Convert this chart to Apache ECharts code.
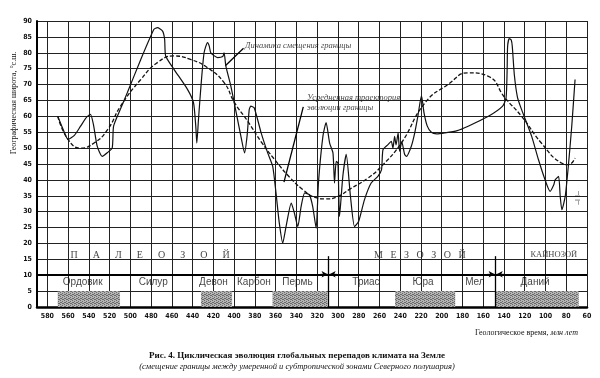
<!DOCTYPE html>
<html>
<head>
<meta charset="utf-8">
<script src="https://cdn.jsdelivr.net/npm/echarts@6/dist/echarts.min.js"></script>
<style>
  html, body { margin: 0; background: #fff; }
  #chart { width: 600px; height: 378px; }
</style>
</head>
<body>
<div id="chart"></div>
<script>
// geological time axis (million years ago), labels every 20
const xTicks = [580, 560, 540, 520, 500, 480, 460, 440, 420, 400, 380, 360, 340, 320,
  300, 280, 260, 240, 220, 200, 180, 160, 140, 120, 100, 80, 60];

// [Ma, latitude] - dynamics of boundary shift (solid)
const boundaryShift = [
  [570, 60], [565, 56], [560, 52.7], [554, 54], [548, 56.9], [542, 59.8], [538.5, 60.6],
  [535.6, 57.4], [532, 50.6], [527.2, 47.4], [522, 48.6], [517.5, 50.1], [516.2, 56.9],
  [510, 62], [503, 67.4], [490, 77.9], [477.3, 87.4], [474, 87.9], [469, 86.8], [467, 84.2],
  [466, 79], [458, 74.8], [445, 68.5], [439.2, 64.3], [437, 56.9], [436, 51.6], [434.4, 59],
  [432, 69.5], [429, 80], [425.7, 83.2], [424, 82.1], [422.5, 80], [416, 78.5], [411, 78.8],
  [409.7, 80], [408, 75.8], [403.2, 69.5], [398, 61.1], [393.5, 53.7], [390, 48.5],
  [387.5, 54], [385.5, 62.1], [384, 63.2], [380.7, 62.7], [374, 54.8], [367.7, 48.5],
  [362.9, 44.3], [359.7, 35.9], [356.5, 26.4], [353.2, 20.1], [350, 25.3], [345, 32.7],
  [342, 29.6], [338.7, 25.3], [335.5, 31.6], [332, 35.9], [327.5, 35.3], [324.3, 31.6],
  [321, 24.8], [318.8, 39], [314.5, 53.7], [311.4, 58], [308, 51.6], [304.8, 48.5],
  [303.3, 39], [301.7, 45.8], [300, 45.3], [298.5, 28.5], [295.3, 41.1], [292, 48],
  [288, 35], [284, 25.3], [280, 27], [274.4, 33.8], [268, 39], [261.5, 41.1], [258, 43.2],
  [256.6, 49.5], [251.8, 51.1], [248.6, 52.1], [247, 50], [245.4, 53.7], [244, 51],
  [242, 54.8], [240.6, 49], [238.5, 52], [235.7, 48], [234, 47.4], [229.3, 50.6],
  [226, 54.8], [223, 60], [219.5, 66.5], [217, 61], [214, 57], [210, 55], [205, 54.5],
  [197, 54.8], [185, 55.5], [174.5, 56.9], [155, 60], [141.3, 63.2], [138, 65.8],
  [137, 74], [136.5, 82], [135, 84.5], [133, 84], [132, 82], [130, 73], [127, 66],
  [123, 62.1], [113.3, 53.7], [106.8, 46.4], [100.4, 40], [95.6, 36.4], [92, 38.5],
  [90.7, 40], [87.4, 41.1], [85.8, 34.8], [84.2, 30.6], [81, 34.8], [78, 44.3],
  [74.7, 56.9], [71.5, 71.6]
];

// [Ma, latitude] - averaged trajectory (dashed)
const averageTrend = [
  [570, 60], [560, 52.7], [548, 50], [535, 51.6], [522, 55.8], [509.5, 63.2], [490, 71.6],
  [474, 76.9], [458, 79], [442, 77.9], [425.7, 75.3], [409.7, 70.6], [400, 64.5],
  [387, 58.5], [374, 52], [361, 46.4], [347, 41], [334, 37], [322, 34.5], [312, 34],
  [300, 34.8], [289, 37], [271, 40.6], [258, 44.3], [239, 51.6], [216, 64.3], [194, 70],
  [174.5, 73.7], [155, 72.6], [139, 65.8], [123, 60], [104, 51.6], [84.6, 45.3],
  [78, 44.8], [71.5, 46.9]
];

const periodNames = ['Ордовик', 'Силур', 'Девон', 'Карбон', 'Пермь', 'Триас', 'Юра', 'Мел', 'Даний'];
const periodCenters = [546, 478, 420, 381, 339, 273, 218, 168, 110];

const eraNames = ['ПАЛЕОЗОЙ', 'МЕЗОЗОЙ', 'КАЙНОЗОЙ'];
const eraCenters = [481, 221, 92];

// shaded spans [from, to] in Ma
const shadedSpans = [[570, 510], [432, 402], [363, 310], [245, 187], [148, 68]];
const eraBounds = [309, 148];

const chart = echarts.init(document.getElementById('chart'), null, { renderer: 'canvas' });

// dotted grey texture for the shaded blocks
const pat = document.createElement('canvas');
pat.width = 4;
pat.height = 4;
const pc = pat.getContext('2d');
pc.fillStyle = '#b4b4b4';
pc.fillRect(0, 0, 4, 4);
pc.fillStyle = '#6a6a6a';
[[0, 0], [2, 1], [1, 2], [3, 3], [2, 3], [0, 2]].forEach(([a, b]) => pc.fillRect(a, b, 1, 1));

const serif = '"Liberation Serif", "DejaVu Serif", serif';
const sans = '"Liberation Sans", Arial, sans-serif';
const tickFont = '"Liberation Sans Narrow", "DejaVu Sans Condensed", "Liberation Sans", sans-serif';

// letters of the first two era names are spread out
const eraGaps = ['      ', '   ', ''];
const textItems = [];
periodNames.forEach((name, i) => {
  textItems.push({
    name: name,
    value: [periodCenters[i], 7.9],
    label: { fontFamily: sans, fontSize: 10, color: '#111' }
  });
});
eraNames.forEach((name, i) => {
  textItems.push({
    name: name.split('').join(eraGaps[i]),
    value: [eraCenters[i], 16.4],
    label: { fontFamily: serif, fontSize: i === 2 ? 8.5 : 10, color: '#111' }
  });
});
textItems.push({
  name: 'Динамика смещения границы',
  value: [389.5, 82.1],
  label: { fontFamily: serif, fontStyle: 'italic', fontSize: 8.5, color: '#111', align: 'left' }
});
textItems.push({
  name: 'Усредненная траектория\nэволюции границы',
  value: [329.8, 64.2],
  label: { fontFamily: serif, fontStyle: 'italic', fontSize: 8.5, lineHeight: 10, color: '#111', align: 'left' }
});
textItems.push({
  name: '–I I–',
  value: [68.7, 34.3],
  label: { fontFamily: sans, fontSize: 7, color: '#111', rotate: 90 }
});

const lineMarks = [{ yAxis: 10, lineStyle: { width: 2, color: '#000' } }];
eraBounds.forEach((b) => {
  lineMarks.push([{ coord: [b, 0] }, { coord: [b, 16] }]);
  lineMarks.push([{ coord: [b + 8, 10.3] }, { coord: [b + 1, 10.3], symbol: 'arrow', symbolSize: [5, 6] }]);
  lineMarks.push([{ coord: [b - 8, 10.3] }, { coord: [b - 1, 10.3], symbol: 'arrow', symbolSize: [5, 6] }]);
});
// leader lines from the annotations
lineMarks.push([{ coord: [391, 81.4] }, { coord: [408.5, 75.9] }]);
lineMarks.push([{ coord: [333.4, 63] }, { coord: [352, 39.3] }]);

const option = {
  animation: false,
  backgroundColor: '#fff',
  grid: { left: 37, right: 13, top: 21, bottom: 71 },
  xAxis: {
    type: 'value',
    min: 60,
    max: 590,
    inverse: true,
    axisLine: { show: true, onZero: false, lineStyle: { color: '#000', width: 2.5 } },
    axisTick: { show: false, customValues: xTicks },
    axisLabel: {
      customValues: xTicks,
      margin: 6,
      fontSize: 7,
      fontWeight: 'bold',
      fontFamily: tickFont,
      color: '#111'
    },
    splitLine: { show: true, lineStyle: { color: '#222', width: 1 } }
  },
  yAxis: {
    type: 'value',
    min: 0,
    max: 90,
    interval: 5,
    axisLine: { show: true, lineStyle: { color: '#000', width: 2 } },
    axisTick: { show: false },
    axisLabel: {
      margin: 5,
      fontSize: 7,
      fontWeight: 'bold',
      fontFamily: tickFont,
      color: '#111'
    },
    splitLine: { show: true, lineStyle: { color: '#222', width: 1 } }
  },
  series: [
    {
      name: 'Динамика смещения границы',
      type: 'line',
      data: boundaryShift,
      smooth: 0.2,
      showSymbol: false,
      silent: true,
      z: 5,
      lineStyle: { color: '#111', width: 1.2 },
      markArea: {
        silent: true,
        itemStyle: { color: { image: pat, repeat: 'repeat' } },
        data: shadedSpans.map(([a, b]) => [{ coord: [a, 0] }, { coord: [b, 5] }])
      },
      markLine: {
        silent: true,
        symbol: 'none',
        label: { show: false },
        lineStyle: { color: '#000', width: 1.3, type: 'solid' },
        data: lineMarks
      }
    },
    {
      name: 'Усредненная траектория эволюции границы',
      type: 'line',
      data: averageTrend,
      smooth: true,
      showSymbol: false,
      silent: true,
      z: 4,
      lineStyle: { color: '#111', width: 1.3, type: [4, 2] }
    },
    {
      type: 'scatter',
      symbolSize: 0,
      silent: true,
      z: 6,
      data: textItems,
      label: { show: true, position: 'inside', formatter: '{b}' }
    }
  ],
  graphic: [
    {
      type: 'text',
      x: 14,
      y: 103,
      rotation: Math.PI / 2,
      style: {
        text: 'Географическая широта, °с.ш.',
        font: '8px ' + serif,
        fill: '#111',
        align: 'center',
        verticalAlign: 'middle'
      }
    },
    {
      type: 'text',
      x: 578,
      y: 333,
      style: {
        text: '{a|Геологическое время, }{b|млн лет}',
        rich: {
          a: { font: '8px ' + serif, fill: '#111' },
          b: { font: 'italic 8px ' + serif, fill: '#111' }
        },
        align: 'right',
        verticalAlign: 'middle'
      }
    },
    {
      type: 'text',
      x: 297,
      y: 356,
      style: {
        text: 'Рис. 4. Циклическая эволюция глобальных перепадов климата на Земле',
        font: 'bold 9px ' + serif,
        fill: '#111',
        align: 'center',
        verticalAlign: 'middle'
      }
    },
    {
      type: 'text',
      x: 297,
      y: 367,
      style: {
        text: '(смещение границы между умеренной и субтропической зонами Северного полушария)',
        font: 'italic 8.5px ' + serif,
        fill: '#111',
        align: 'center',
        verticalAlign: 'middle'
      }
    }
  ]
};

chart.setOption(option);
</script>
</body>
</html>
